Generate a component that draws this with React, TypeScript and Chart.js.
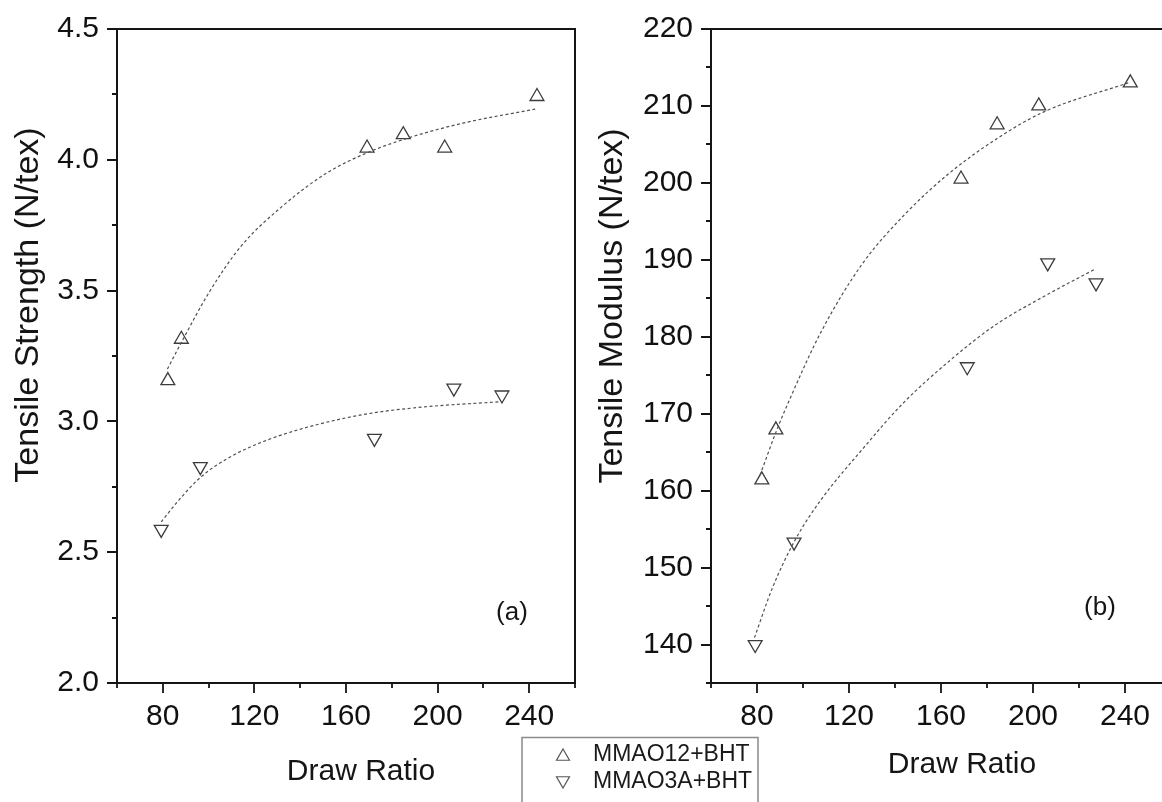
import React, { useEffect, useRef } from 'react';
import { Chart, registerables } from 'chart.js';

Chart.register(...registerables);

const FONT = '"Liberation Sans", Arial, sans-serif';

// ---- shared x axis ----
const drawRatioTicks = [80, 120, 160, 200, 240];
const drawRatioMinor = [60, 100, 140, 180, 220, 260];

// ---- panel (a): tensile strength ----
const strengthTicks = [2.0, 2.5, 3.0, 3.5, 4.0, 4.5];
const strengthMinor = [2.25, 2.75, 3.25, 3.75, 4.25];
const strengthUpX = [82.2, 88.1, 169.2, 185.0, 203.1, 243.4];
const strengthUpY = [3.156, 3.314, 4.045, 4.096, 4.045, 4.242];
const strengthDownX = [79.3, 96.4, 172.4, 207.1, 228.1];
const strengthDownY = [2.587, 2.827, 2.935, 3.127, 3.101];
const strengthUpFitX = [82, 88, 100, 114, 132, 151.5, 169, 187, 211, 242.6];
const strengthUpFitY = [3.2, 3.3, 3.49, 3.668, 3.821, 3.949, 4.026, 4.083, 4.14, 4.194];
const strengthDownFitX = [79.3, 87, 96.7, 109.6, 125.7, 146.6, 170.8, 195, 227.3];
const strengthDownFitY = [2.616, 2.699, 2.788, 2.865, 2.929, 2.986, 3.031, 3.056, 3.075];

// ---- panel (b): tensile modulus ----
const modulusTicks = [140, 150, 160, 170, 180, 190, 200, 210, 220];
const modulusMinor = [135, 145, 155, 165, 175, 185, 195, 205, 215];
const modulusUpX = [82.1, 88.2, 168.7, 184.4, 202.5, 242.3];
const modulusUpY = [161.4, 167.9, 200.5, 207.55, 210.0, 213.0];
const modulusDownX = [79.2, 96.1, 171.4, 206.4, 227.4];
const modulusDownY = [140.0, 153.3, 176.1, 189.6, 187.0];
const modulusUpFitX = [81.3, 88.5, 95, 107.8, 125.6, 144.9, 164.2, 185.1, 204.5, 241.4];
const modulusUpFitY = [162.0, 167.8, 172.4, 180.6, 189.4, 196.1, 201.4, 205.9, 209.2, 213.0];
const modulusDownFitX = [78.9, 86.9, 96.6, 107.8, 125.6, 143.3, 164.2, 183.5, 204.5, 227.0];
const modulusDownFitY = [140.9, 147.5, 153.6, 158.8, 165.3, 171.3, 177.0, 181.5, 185.2, 188.8];

const seriesNames = ['MMAO12+BHT', 'MMAO3A+BHT'];

const MARKER = '#3c3c3c';
const FIT = '#505050';
const AXIS = '#151515';

const toPts = (xs: number[], ys: number[]) => xs.map((x, i) => ({ x, y: ys[i] }));

const framePlugin = {
  id: 'frame',
  afterDraw(chart: any, _args: any, opts: any) {
    const { ctx, chartArea } = chart;
    const { left, right, top, bottom } = chartArea;
    const xs = chart.scales.x;
    const ys = chart.scales.y;
    ctx.save();
    ctx.strokeStyle = AXIS;
    ctx.lineWidth = 2;
    ctx.beginPath();
    ctx.moveTo(left, top);
    ctx.lineTo(right, top);
    ctx.lineTo(right, bottom);
    ctx.lineTo(left, bottom);
    ctx.closePath();
    ctx.stroke();
    ctx.lineWidth = 1.8;
    ctx.beginPath();
    (opts.xMajor || []).forEach((v: number) => {
      const p = Math.round(xs.getPixelForValue(v));
      ctx.moveTo(p, bottom);
      ctx.lineTo(p, bottom + 10);
    });
    (opts.xMinor || []).forEach((v: number) => {
      const p = Math.round(xs.getPixelForValue(v));
      ctx.moveTo(p, bottom);
      ctx.lineTo(p, bottom + 5);
    });
    (opts.yMajor || []).forEach((v: number) => {
      const p = Math.round(ys.getPixelForValue(v));
      ctx.moveTo(left, p);
      ctx.lineTo(left - 10, p);
    });
    (opts.yMinor || []).forEach((v: number) => {
      const p = Math.round(ys.getPixelForValue(v));
      ctx.moveTo(left, p);
      ctx.lineTo(left - 5, p);
    });
    ctx.stroke();
    ctx.restore();
  },
};

const textPlugin = {
  id: 'texts',
  afterDraw(chart: any, _args: any, opts: any) {
    const { ctx } = chart;
    (opts.items || []).forEach((t: any) => {
      ctx.save();
      ctx.fillStyle = '#151515';
      ctx.font = `${t.size}px ${FONT}`;
      ctx.textAlign = t.align || 'center';
      ctx.textBaseline = t.baseline || 'middle';
      ctx.translate(t.x, t.y);
      if (t.rotate) ctx.rotate((t.rotate * Math.PI) / 180);
      ctx.fillText(t.text, 0, 0);
      ctx.restore();
    });
  },
};

function triangle(ctx: CanvasRenderingContext2D, x: number, y: number, r: number, down: boolean) {
  const s = down ? -1 : 1;
  ctx.beginPath();
  ctx.moveTo(x, y - s * r);
  ctx.lineTo(x + r * Math.sin((2 * Math.PI) / 3), y + (s * r) / 2);
  ctx.lineTo(x - r * Math.sin((2 * Math.PI) / 3), y + (s * r) / 2);
  ctx.closePath();
  ctx.stroke();
}

const legendPlugin = {
  id: 'boxLegend',
  afterDraw(chart: any, _args: any, opts: any) {
    if (!opts.show) return;
    const { ctx } = chart;
    ctx.save();
    ctx.strokeStyle = '#8a8a8a';
    ctx.lineWidth = 1.5;
    ctx.strokeRect(opts.x, opts.y, opts.w, opts.h);
    ctx.strokeStyle = '#555';
    ctx.lineWidth = 1.2;
    ctx.fillStyle = '#1a1a1a';
    ctx.font = `23px ${FONT}`;
    ctx.textAlign = 'left';
    ctx.textBaseline = 'middle';
    seriesNames.forEach((name, i) => {
      const cy = opts.rowY[i];
      triangle(ctx, opts.markerX, cy + (i === 0 ? 1.5 : -1.5), 7.5, i === 1);
      ctx.fillText(name, opts.textX, cy);
    });
    ctx.restore();
  },
};

function makeConfig(p: any): any {
  return {
    type: 'scatter',
    data: {
      datasets: [
        {
          label: 'fit1',
          data: toPts(p.upFitX, p.upFitY),
          showLine: true,
          borderColor: FIT,
          borderWidth: 1.2,
          borderDash: [3, 2.5],
          pointRadius: 0,
          cubicInterpolationMode: 'monotone',
          fill: false,
        },
        {
          label: 'fit2',
          data: toPts(p.downFitX, p.downFitY),
          showLine: true,
          borderColor: FIT,
          borderWidth: 1.2,
          borderDash: [3, 2.5],
          pointRadius: 0,
          cubicInterpolationMode: 'monotone',
          fill: false,
        },
        {
          label: seriesNames[0],
          data: toPts(p.upX, p.upY),
          pointStyle: 'triangle',
          pointRadius: 8,
          pointBorderColor: MARKER,
          pointBackgroundColor: 'rgba(0,0,0,0)',
          pointBorderWidth: 1.3,
          showLine: false,
        },
        {
          label: seriesNames[1],
          data: toPts(p.downX, p.downY),
          pointStyle: 'triangle',
          pointRotation: 180,
          pointRadius: 8,
          pointBorderColor: MARKER,
          pointBackgroundColor: 'rgba(0,0,0,0)',
          pointBorderWidth: 1.3,
          showLine: false,
        },
      ],
    },
    options: {
      animation: false,
      responsive: false,
      devicePixelRatio: 1,
      events: [],
      layout: { autoPadding: false, padding: { top: 29, right: p.padRight, left: 0, bottom: 0 } },
      scales: {
        x: {
          type: 'linear',
          min: 60,
          max: 260,
          grid: { display: false, drawTicks: false },
          border: { display: false },
          afterBuildTicks: (s: any) => {
            s.ticks = drawRatioTicks.map((v) => ({ value: v }));
          },
          afterFit: (s: any) => {
            s.height = 802 - 683;
            s.paddingLeft = 0;
            s.paddingRight = 0;
            s.paddingTop = 0;
            s.paddingBottom = 0;
          },
          ticks: {
            autoSkip: false,
            maxRotation: 0,
            padding: 16,
            color: '#111',
            font: { family: FONT, size: 30 },
          },
        },
        y: {
          type: 'linear',
          min: p.yMin,
          max: p.yMax,
          grid: { display: false, drawTicks: false },
          border: { display: false },
          afterBuildTicks: (s: any) => {
            s.ticks = p.yTicks.map((v: number) => ({ value: v }));
          },
          afterFit: (s: any) => {
            s.width = p.areaLeft;
            s.paddingLeft = 0;
            s.paddingRight = 0;
            s.paddingTop = 0;
            s.paddingBottom = 0;
          },
          ticks: {
            autoSkip: false,
            padding: 18,
            color: '#111',
            font: { family: FONT, size: 30 },
            callback: (v: number) => p.yFmt(v),
          },
        },
      },
      plugins: {
        legend: { display: false },
        tooltip: { enabled: false },
        frame: { xMajor: drawRatioTicks, xMinor: drawRatioMinor, yMajor: p.yTicks, yMinor: p.yMinorTicks },
        texts: { items: p.texts },
        boxLegend: p.legend,
      },
    },
    plugins: [framePlugin, textPlugin, legendPlugin],
  };
}

export default function App() {
  const leftRef = useRef<HTMLCanvasElement>(null);
  const rightRef = useRef<HTMLCanvasElement>(null);

  useEffect(() => {
    const a = new Chart(
      leftRef.current!,
      makeConfig({
        upX: strengthUpX,
        upY: strengthUpY,
        downX: strengthDownX,
        downY: strengthDownY,
        upFitX: strengthUpFitX,
        upFitY: strengthUpFitY,
        downFitX: strengthDownFitX,
        downFitY: strengthDownFitY,
        yMin: 2,
        yMax: 4.5,
        yTicks: strengthTicks,
        yMinorTicks: strengthMinor,
        yFmt: (v: number) => v.toFixed(1),
        areaLeft: 117,
        padRight: 5,
        texts: [
          { text: 'Tensile Strength (N/tex)', x: 38, y: 305, size: 34, rotate: -90, baseline: 'alphabetic' },
          { text: 'Draw Ratio', x: 361, y: 772, size: 30 },
          { text: '(a)', x: 512, y: 613, size: 26 },
        ],
        legend: { show: false },
      })
    );
    const b = new Chart(
      rightRef.current!,
      makeConfig({
        upX: modulusUpX,
        upY: modulusUpY,
        downX: modulusDownX,
        downY: modulusDownY,
        upFitX: modulusUpFitX,
        upFitY: modulusUpFitY,
        downFitX: modulusDownFitX,
        downFitY: modulusDownFitY,
        yMin: 135,
        yMax: 220,
        yTicks: modulusTicks,
        yMinorTicks: modulusMinor,
        yFmt: (v: number) => String(v),
        areaLeft: 231,
        padRight: 51,
        texts: [
          { text: 'Tensile Modulus (N/tex)', x: 142, y: 306, size: 34, rotate: -90, baseline: 'alphabetic' },
          { text: 'Draw Ratio', x: 482, y: 765, size: 30 },
          { text: '(b)', x: 620, y: 608, size: 26 },
        ],
        legend: { show: true, x: 42, y: 737.5, w: 236, h: 90, markerX: 83, textX: 113, rowY: [755, 782] },
      })
    );
    return () => {
      a.destroy();
      b.destroy();
    };
  }, []);

  return (
    <div
      style={{
        position: 'fixed',
        left: 0,
        top: 0,
        width: 1162,
        height: 802,
        overflow: 'hidden',
        background: '#fff',
      }}
    >
      <canvas ref={leftRef} width={580} height={802} style={{ position: 'absolute', left: 0, top: 0 }} />
      <canvas ref={rightRef} width={742} height={802} style={{ position: 'absolute', left: 480, top: 0 }} />
    </div>
  );
}
